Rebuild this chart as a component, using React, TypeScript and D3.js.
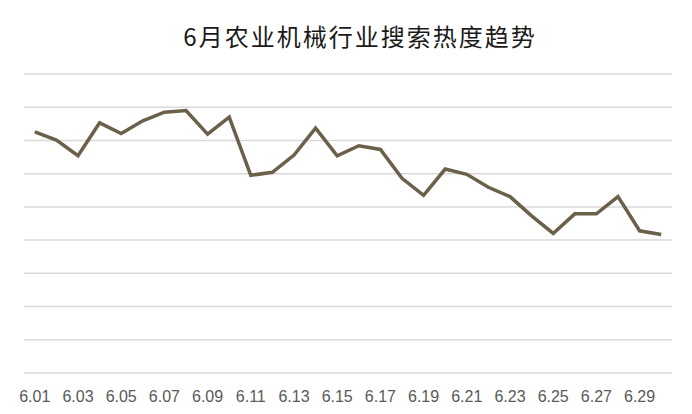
import React from "react";
import * as d3 from "d3";

const title = "6月农业机械行业搜索热度趋势";
const days = [
  "6.01","6.02","6.03","6.04","6.05","6.06","6.07","6.08","6.09","6.10",
  "6.11","6.12","6.13","6.14","6.15","6.16","6.17","6.18","6.19","6.20",
  "6.21","6.22","6.23","6.24","6.25","6.26","6.27","6.28","6.29","6.30",
];
const heat = [
  726, 701, 654, 753, 721, 759, 785, 790, 719, 770,
  595, 604, 656, 737, 654, 684, 673, 586, 535, 614,
  598, 559, 531, 473, 420, 479, 479, 531, 428, 417,
];
const yTicks = [0, 100, 200, 300, 400, 500, 600, 700, 800, 900];
const shownLabels = days.filter((_, i) => i % 2 === 0);

const W = 692;
const H = 414;
const left = 24;
const right = 672;
const top = 74;
const bottom = 373;

export default function App() {
  const x = d3.scaleBand<string>().domain(days).range([left, right]).padding(0);
  const y = d3.scaleLinear().domain([0, 900]).range([bottom, top]);
  const cx = (d: string) => (x(d) as number) + x.bandwidth() / 2;
  const line = d3
    .line<number>()
    .x((_, i) => cx(days[i]))
    .y((v) => y(v));

  return (
    <svg
      width={W}
      height={H}
      style={{ position: "absolute", left: 0, top: 0, background: "#fff" }}
    >
      <text
        x={360}
        y={46}
        textAnchor="middle"
        fontFamily="'Noto Sans CJK SC', sans-serif"
        fontSize={24}
        letterSpacing={2}
        fill="#1a1a1a"
      >
        {title}
      </text>
      {yTicks.map((t) => (
        <line
          key={t}
          x1={left}
          x2={right}
          y1={y(t)}
          y2={y(t)}
          stroke="#d9d9d9"
          strokeWidth={1.5}
        />
      ))}
      <path
        d={line(heat) || ""}
        fill="none"
        stroke="#6b604a"
        strokeWidth={3.5}
        strokeLinejoin="miter"
      />
      {shownLabels.map((d) => (
        <text
          key={d}
          x={cx(d)}
          y={402}
          textAnchor="middle"
          fontFamily="'Liberation Sans', Arial, sans-serif"
          fontSize={16}
          fill="#595959"
        >
          {d}
        </text>
      ))}
    </svg>
  );
}
